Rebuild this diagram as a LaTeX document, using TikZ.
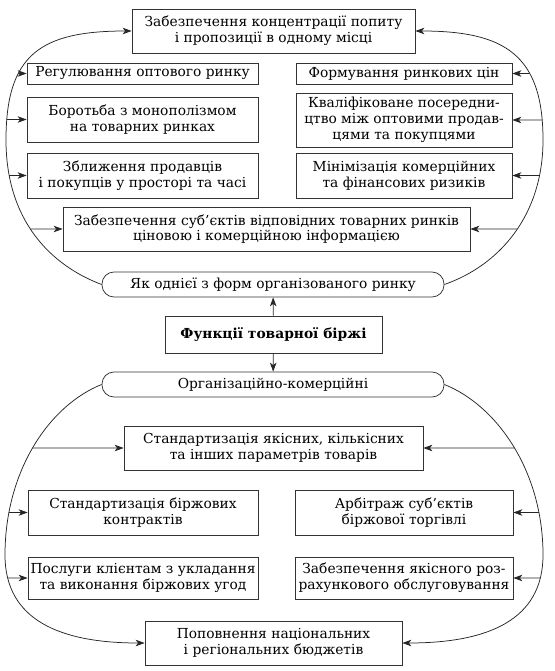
\documentclass[tikz,border=0pt]{standalone}
\usepackage{fontspec}
\setmainfont{DejaVu Serif}
\usetikzlibrary{arrows.meta,intersections}
\tikzset{
    %Define standard arrow tip
    >={Stealth[length=9pt,width=6.5pt,inset=2.5pt]},
    %Define style for boxes
    fbox/.style={
           rectangle,
           draw=black!80, line width=0.75pt,
           inner sep=1pt,
           align=center,
           font=\fontsize{13.8}{15.8}\selectfont},
    %Define style for the two rounded headings
    pill/.style={
           fbox,
           rounded corners=12pt,
           minimum width=342pt,
           minimum height=25pt},
    % Define arrow style
    pil/.style={
           ->,
           draw=black!85,
           line width=0.75pt}
}
\begin{document}
\begin{tikzpicture}[x=1pt,y=-1pt]
\useasboundingbox (0,0) rectangle (554,671);

 %nodes, upper part
\node[fbox, minimum width=283pt, minimum height=44pt] (conc) at (273.5,31)
    {Забезпечення концентрації попиту\\і пропозиції в одному місці};
\node[fbox, minimum width=231pt, minimum height=21pt] (reg) at (142.5,73.5)
    {Регулювання оптового ринку};
\node[fbox, minimum width=231pt, minimum height=45pt] (mono) at (142.5,119.5)
    {Боротьба з монополізмом\\на товарних ринках};
\node[fbox, minimum width=231pt, minimum height=45pt] (zbl) at (142.5,175.5)
    {Зближення продавців\\і покупців у просторі та часі};
\node[fbox, minimum width=216pt, minimum height=21pt] (cin) at (404,73.5)
    {Формування ринкових цін};
\node[fbox, minimum width=216pt, minimum height=54pt] (kval) at (404,120)
    {Кваліфіковане посередни-\\цтво між оптовими продав-\\цями та покупцями};
\node[fbox, minimum width=216pt, minimum height=45pt] (ryz) at (404,175.5)
    {Мінімізація комерційних\\та фінансових ризиків};
\node[fbox, minimum width=407pt, minimum height=44pt] (info) at (266.5,229)
    {Забезпечення суб’єктів відповідних товарних ринків\\ціновою і комерційною інформацією};
\node[pill] (org) at (273,284.5) {Як однієї з форм організованого ринку};

 %central node
\node[fbox, minimum width=217pt, minimum height=37pt, font=\fontsize{13.8}{15.8}\selectfont\bfseries] (func) at (273.5,334.5)
    {Функції товарної біржі};

 %nodes, lower part
\node[pill] (kom) at (273,384.5) {Організаційно-комерційні};
\node[fbox, minimum width=299pt, minimum height=44pt] (param) at (273.5,448)
    {Стандартизація якісних, кількісних\\та інших параметрів товарів};
\node[fbox, minimum width=230pt, minimum height=45pt] (kontr) at (143,512.5)
    {Стандартизація біржових\\контрактів};
\node[fbox, minimum width=218pt, minimum height=45pt] (arb) at (404,512.5)
    {Арбітраж суб’єктів\\біржової торгівлі};
\node[fbox, minimum width=230pt, minimum height=42pt] (posl) at (143,578)
    {Послуги клієнтам з укладання\\та виконання біржових угод};
\node[fbox, minimum width=218pt, minimum height=42pt] (rozr) at (404,578)
    {Забезпечення якісного роз-\\рахункового обслуговування};
\node[fbox, minimum width=257pt, minimum height=44pt] (bud) at (273.5,643)
    {Поповнення національних\\і регіональних бюджетів};

 %vertical arrows
\draw[pil] (func) -- (org);
\draw[pil] (func) -- (kom);

 %curved connectors
\draw[pil, name path=lu] (org.west) .. controls (50,265) and (6,220) .. (6,140)
    .. controls (6,55) and (40,31) .. (conc.west);
\draw[pil, name path=ru] (org.east) .. controls (500,265) and (543,215) .. (543,140)
    .. controls (543,55) and (505,31) .. (conc.east);
\draw[pil, name path=ld] (kom.west) .. controls (50,405) and (5,470) .. (5,555)
    .. controls (5,620) and (60,643) .. (bud.west);
\draw[pil, name path=rd] (kom.east) .. controls (496,405) and (543,470) .. (543,555)
    .. controls (543,620) and (488,643) .. (bud.east);

 %branches
\foreach \b in {reg,mono,zbl,info}{
    \path[name path=h\b] (\b.west) -- ++(-120,0);
    \draw[pil, name intersections={of=lu and h\b}] (intersection-1) -- (\b.west);
}
\foreach \b in {cin,kval,ryz,info}{
    \path[name path=k\b] (\b.east) -- ++(120,0);
    \draw[pil, name intersections={of=ru and k\b}] (intersection-1) -- (\b.east);
}
\foreach \b in {param,kontr,posl}{
    \path[name path=h\b] (\b.west) -- ++(-120,0);
    \draw[pil, name intersections={of=ld and h\b}] (intersection-1) -- (\b.west);
}
\foreach \b in {param,arb,rozr}{
    \path[name path=k\b] (\b.east) -- ++(120,0);
    \draw[pil, name intersections={of=rd and k\b}] (intersection-1) -- (\b.east);
}
\end{tikzpicture}
\end{document}
